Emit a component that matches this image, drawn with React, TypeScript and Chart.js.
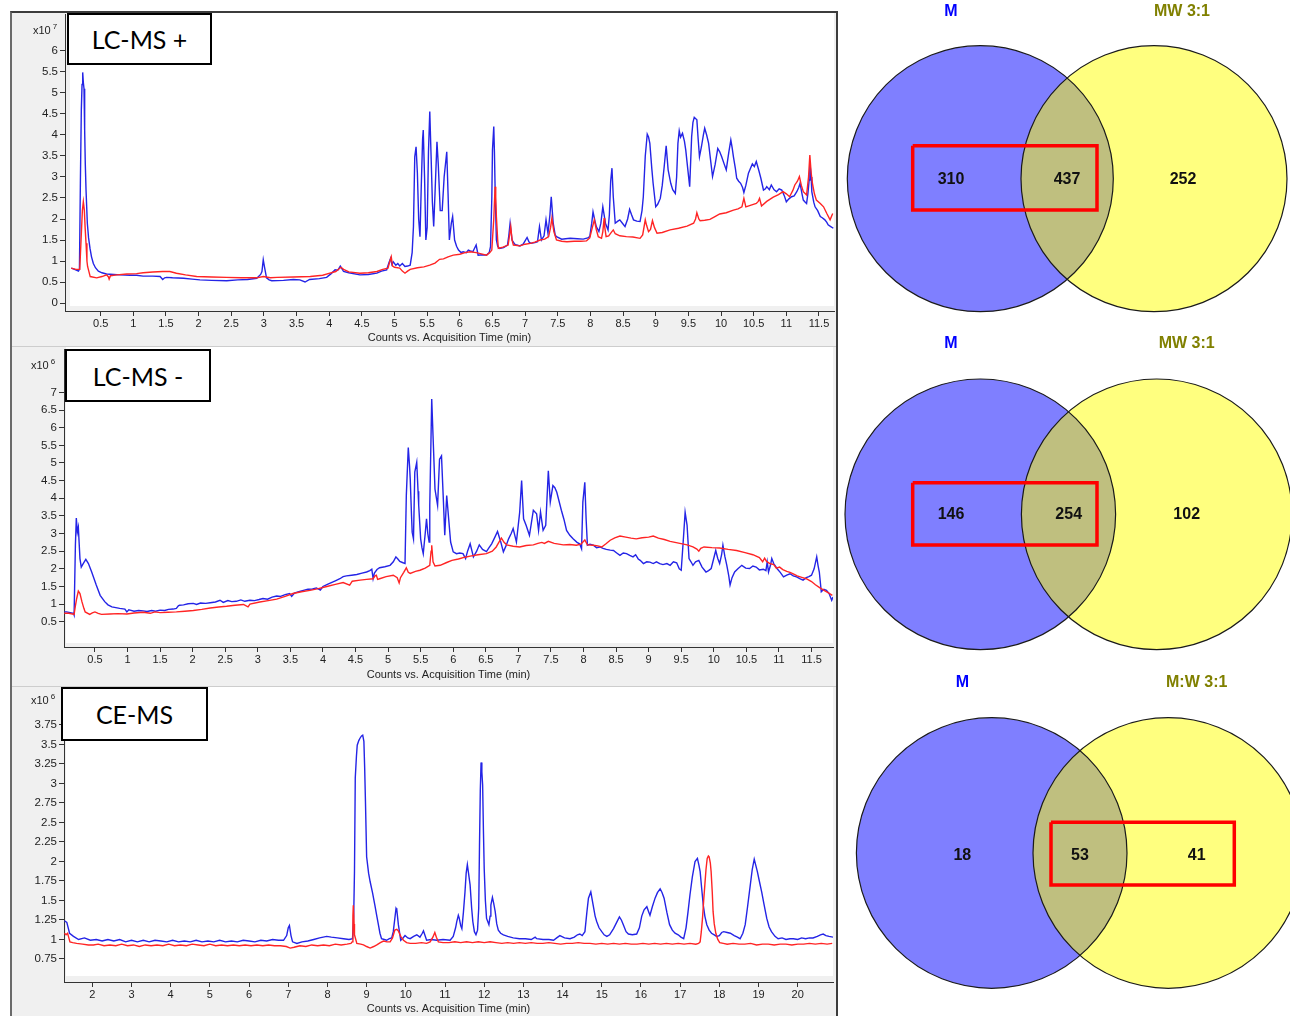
import React, { useEffect, useRef } from "react";
import { Chart, registerables } from "chart.js";

Chart.register(...registerables);

type Pt = [number, number];

// ---------------- Tick labels ----------------
const lcXTicks = [0.5, 1, 1.5, 2, 2.5, 3, 3.5, 4, 4.5, 5, 5.5, 6, 6.5, 7, 7.5, 8, 8.5, 9, 9.5, 10, 10.5, 11, 11.5];
const lcPosYTicks = [0, 0.5, 1, 1.5, 2, 2.5, 3, 3.5, 4, 4.5, 5, 5.5, 6];
const lcNegYTicks = [0.5, 1, 1.5, 2, 2.5, 3, 3.5, 4, 4.5, 5, 5.5, 6, 6.5, 7];
const ceXTicks = [2, 3, 4, 5, 6, 7, 8, 9, 10, 11, 12, 13, 14, 15, 16, 17, 18, 19, 20];
const ceYTicks = [0.75, 1, 1.25, 1.5, 1.75, 2, 2.25, 2.5, 2.75, 3, 3.25, 3.5, 3.75];

const xTitle = "Counts vs. Acquisition Time (min)";
const panelTitles = ["LC-MS +", "LC-MS -", "CE-MS"];
const panelExponents = ["7", "6", "6"];

// ---------------- LC-MS + (x10^7 counts vs min) ----------------
const lcPosBlue: Pt[] = [
  [0.05,0.83],[0.1,0.8],[0.16,0.76],[0.175,0.8],[0.19,2.93],[0.204,4.6],[0.215,5.2],[0.225,5.49],[0.235,5.25],[0.245,5.1],
  [0.255,4.12],[0.265,3.3],[0.276,2.69],[0.296,1.9],[0.315,1.55],[0.337,1.3],[0.36,1.1],[0.388,0.94],[0.42,0.84],[0.465,0.76],
  [0.52,0.72],[0.59,0.69],[0.7,0.68],[0.8,0.67],[0.95,0.66],[1.05,0.66],[1.15,0.64],[1.3,0.64],[1.41,0.63],[1.45,0.56],
  [1.48,0.6],[1.51,0.61],[1.6,0.6],[1.77,0.59],[1.9,0.57],[2.02,0.55],[2.2,0.54],[2.43,0.53],[2.6,0.55],[2.75,0.56],
  [2.89,0.59],[2.95,0.68],[2.97,0.75],[2.99,1.03],[3.01,0.85],[3.04,0.6],[3.08,0.55],[3.12,0.53],[3.3,0.54],[3.45,0.56],
  [3.55,0.55],[3.63,0.5],[3.7,0.56],[3.85,0.58],[3.96,0.61],[4.03,0.7],[4.09,0.79],[4.13,0.78],[4.17,0.88],[4.22,0.75],
  [4.3,0.72],[4.47,0.67],[4.6,0.68],[4.73,0.71],[4.8,0.76],[4.88,0.79],[4.92,0.98],[4.94,1.06],[4.96,0.92],[4.98,0.98],
  [5.02,0.9],[5.05,0.94],[5.08,0.88],[5.12,0.94],[5.16,0.87],[5.2,0.88],[5.24,0.9],[5.27,1.2],[5.29,1.82],[5.31,3.48],
  [5.33,3.72],[5.35,3.1],[5.37,2.0],[5.39,1.58],[5.41,2.8],[5.43,3.9],[5.44,4.12],[5.46,3.0],[5.48,1.5],[5.5,1.8],
  [5.52,3.6],[5.54,4.56],[5.56,3.5],[5.58,2.4],[5.6,1.82],[5.62,2.6],[5.65,3.84],[5.67,3.3],[5.7,2.2],[5.73,2.2],
  [5.76,3.0],[5.8,3.6],[5.82,2.6],[5.84,1.5],[5.87,1.9],[5.89,2.06],[5.92,1.5],[5.95,1.35],[5.98,1.26],[6.02,1.2],
  [6.05,1.22],[6.1,1.2],[6.13,1.26],[6.16,1.24],[6.2,1.22],[6.25,1.38],[6.28,1.14],[6.35,1.15],[6.41,1.14],[6.45,1.2],
  [6.47,1.34],[6.49,2.5],[6.5,3.64],[6.52,4.2],[6.53,3.6],[6.54,2.77],[6.56,1.5],[6.58,1.35],[6.61,1.3],[6.67,1.32],
  [6.73,1.38],[6.75,1.6],[6.77,1.9],[6.8,1.5],[6.84,1.4],[6.87,1.38],[6.92,1.36],[6.97,1.4],[7.03,1.56],[7.06,1.45],
  [7.09,1.42],[7.15,1.44],[7.19,1.46],[7.22,1.82],[7.25,1.5],[7.29,1.6],[7.32,1.98],[7.35,1.66],[7.38,2.1],[7.4,2.53],
  [7.43,1.9],[7.46,1.62],[7.48,1.58],[7.56,1.52],[7.62,1.53],[7.69,1.54],[7.8,1.53],[7.89,1.52],[7.96,1.55],[7.99,1.58],
  [8.02,1.9],[8.04,2.17],[8.07,1.95],[8.09,1.82],[8.13,1.7],[8.16,1.9],[8.19,2.29],[8.21,2.1],[8.23,1.9],[8.27,1.74],
  [8.29,2.1],[8.31,2.9],[8.33,3.21],[8.35,2.53],[8.38,1.9],[8.42,1.95],[8.45,1.98],[8.49,1.9],[8.53,1.82],[8.57,2.0],
  [8.6,2.23],[8.63,2.1],[8.66,1.98],[8.71,1.95],[8.76,1.94],[8.79,2.2],[8.81,2.53],[8.84,3.5],[8.87,4.02],[8.89,3.95],
  [8.91,3.8],[8.94,3.2],[8.96,2.85],[9.0,2.29],[9.03,2.35],[9.07,2.49],[9.1,2.8],[9.13,3.25],[9.16,3.74],[9.19,3.17],
  [9.23,2.85],[9.26,2.7],[9.3,2.61],[9.32,3.0],[9.34,3.8],[9.36,4.1],[9.38,3.95],[9.41,4.04],[9.44,3.85],[9.46,3.64],
  [9.49,3.2],[9.52,2.77],[9.55,3.96],[9.57,4.3],[9.59,4.42],[9.63,4.36],[9.65,3.9],[9.67,3.48],[9.7,3.72],[9.73,4.0],
  [9.75,4.16],[9.78,4.0],[9.81,3.8],[9.84,3.4],[9.87,3.01],[9.91,3.3],[9.95,3.68],[9.98,3.6],[10.01,3.48],[10.05,3.3],
  [10.08,3.17],[10.12,3.6],[10.15,3.88],[10.17,3.7],[10.19,3.48],[10.22,3.2],[10.24,2.97],[10.27,2.9],[10.3,2.85],[10.33,2.75],
  [10.35,2.63],[10.38,2.8],[10.42,3.09],[10.45,3.2],[10.48,3.31],[10.51,3.25],[10.54,3.37],[10.58,3.15],[10.61,2.97],[10.65,2.69],
  [10.68,2.72],[10.7,2.77],[10.74,2.7],[10.77,2.81],[10.81,2.7],[10.85,2.65],[10.89,2.72],[10.93,2.69],[10.97,2.55],[11.0,2.41],
  [11.04,2.48],[11.08,2.53],[11.12,2.55],[11.16,2.65],[11.19,2.75],[11.21,2.85],[11.24,2.6],[11.26,2.45],[11.29,2.4],[11.31,2.37],
  [11.33,2.6],[11.35,2.93],[11.36,3.37],[11.38,3.0],[11.39,2.65],[11.42,2.4],[11.44,2.29],[11.48,2.2],[11.52,2.06],[11.55,2.03],
  [11.59,1.98],[11.62,1.92],[11.64,1.86],[11.68,1.82],[11.72,1.78],
];
const lcPosRed: Pt[] = [
  [0.05,0.83],[0.12,0.8],[0.18,0.8],[0.2,1.5],[0.22,2.2],[0.235,2.41],[0.25,2.21],[0.262,1.8],[0.276,1.42],[0.29,1.0],
  [0.3,0.87],[0.34,0.63],[0.44,0.6],[0.52,0.63],[0.59,0.67],[0.62,0.62],[0.63,0.57],[0.65,0.65],[0.75,0.67],[0.9,0.69],
  [1.05,0.7],[1.15,0.72],[1.3,0.74],[1.45,0.75],[1.56,0.75],[1.66,0.71],[1.8,0.67],[1.97,0.63],[2.2,0.62],[2.43,0.61],
  [2.65,0.6],[2.89,0.6],[2.99,0.63],[3.1,0.6],[3.2,0.61],[3.45,0.62],[3.71,0.63],[3.9,0.66],[4.01,0.71],[4.1,0.75],
  [4.18,0.85],[4.22,0.8],[4.3,0.74],[4.47,0.71],[4.6,0.72],[4.73,0.75],[4.82,0.8],[4.9,0.83],[4.93,1.0],[4.95,1.1],
  [4.97,0.88],[5.0,0.85],[5.08,0.83],[5.12,0.76],[5.16,0.71],[5.2,0.76],[5.24,0.8],[5.35,0.84],[5.45,0.86],[5.54,0.9],
  [5.62,0.95],[5.69,1.04],[5.75,1.05],[5.82,1.1],[5.9,1.14],[6.0,1.16],[6.08,1.2],[6.16,1.22],[6.25,1.2],[6.33,1.17],
  [6.41,1.14],[6.46,1.2],[6.49,1.26],[6.52,2.0],[6.54,2.77],[6.55,2.5],[6.56,2.06],[6.58,1.5],[6.59,1.3],[6.66,1.33],
  [6.74,1.38],[6.76,1.6],[6.78,1.82],[6.8,1.5],[6.82,1.38],[6.92,1.36],[7.0,1.4],[7.08,1.42],[7.15,1.45],[7.23,1.5],
  [7.3,1.52],[7.36,1.58],[7.39,1.8],[7.41,2.02],[7.44,1.7],[7.48,1.5],[7.56,1.47],[7.64,1.46],[7.75,1.47],[7.85,1.47],
  [7.94,1.48],[7.99,1.55],[8.02,1.74],[8.06,1.98],[8.09,1.75],[8.12,1.58],[8.17,1.54],[8.19,1.7],[8.21,2.02],[8.22,1.8],
  [8.24,1.58],[8.28,1.6],[8.32,1.68],[8.35,1.74],[8.38,1.65],[8.45,1.6],[8.55,1.58],[8.65,1.57],[8.76,1.54],[8.8,1.62],
  [8.84,1.98],[8.86,1.85],[8.89,1.7],[8.92,1.75],[8.95,1.96],[8.98,1.8],[9.02,1.66],[9.1,1.68],[9.22,1.74],[9.35,1.78],
  [9.48,1.83],[9.58,1.9],[9.61,2.0],[9.63,2.15],[9.66,2.0],[9.68,1.96],[9.75,1.97],[9.83,1.99],[9.9,2.05],[9.98,2.12],
  [10.08,2.15],[10.19,2.21],[10.26,2.24],[10.32,2.29],[10.35,2.49],[10.38,2.29],[10.46,2.33],[10.54,2.37],[10.57,2.42],[10.59,2.49],
  [10.62,2.31],[10.7,2.42],[10.8,2.52],[10.88,2.58],[10.95,2.65],[11.0,2.6],[11.05,2.53],[11.1,2.68],[11.13,2.81],[11.17,2.9],
  [11.2,3.01],[11.23,2.8],[11.26,2.65],[11.31,2.57],[11.34,3.0],[11.36,3.52],[11.38,3.1],[11.4,2.85],[11.43,2.6],[11.46,2.45],
  [11.52,2.37],[11.57,2.29],[11.62,2.13],[11.67,1.98],[11.71,2.13],
];

// ---------------- LC-MS - (x10^6 counts vs min) ----------------
const lcNegBlue: Pt[] = [
  [0.03,0.78],[0.065,0.78],[0.12,0.76],[0.17,0.74],[0.18,0.69],[0.2,2.67],[0.214,3.44],[0.23,3.04],[0.245,3.18],[0.27,2.29],
  [0.29,2.05],[0.32,2.15],[0.36,2.27],[0.4,2.15],[0.45,1.91],[0.52,1.54],[0.58,1.25],[0.65,1.07],[0.7,0.98],[0.76,0.92],
  [0.82,0.9],[0.88,0.88],[0.96,0.86],[0.99,0.78],[1.02,0.84],[1.04,0.83],[1.1,0.8],[1.17,0.82],[1.24,0.81],[1.3,0.79],
  [1.37,0.82],[1.43,0.8],[1.5,0.83],[1.57,0.82],[1.63,0.85],[1.7,0.86],[1.75,0.88],[1.78,0.95],[1.8,0.97],[1.86,0.98],
  [1.93,1.01],[2.01,1.02],[2.06,0.99],[2.12,1.03],[2.2,1.02],[2.27,1.04],[2.35,1.06],[2.42,1.11],[2.47,1.05],[2.54,1.1],
  [2.6,1.07],[2.67,1.08],[2.74,1.12],[2.8,1.08],[2.88,1.11],[2.95,1.1],[3.02,1.13],[3.08,1.16],[3.15,1.14],[3.22,1.2],
  [3.29,1.23],[3.35,1.22],[3.42,1.27],[3.49,1.3],[3.52,1.22],[3.56,1.31],[3.63,1.35],[3.7,1.39],[3.77,1.42],[3.84,1.43],
  [3.9,1.46],[3.96,1.4],[4.0,1.5],[4.06,1.55],[4.12,1.6],[4.19,1.66],[4.26,1.72],[4.31,1.78],[4.36,1.8],[4.44,1.82],
  [4.52,1.84],[4.6,1.88],[4.67,1.91],[4.72,1.95],[4.75,1.99],[4.77,1.72],[4.79,1.88],[4.83,1.98],[4.87,2.03],[4.95,2.06],
  [5.03,2.1],[5.08,2.2],[5.12,2.34],[5.15,2.28],[5.18,2.21],[5.22,2.18],[5.26,2.15],[5.28,4.08],[5.31,5.44],[5.33,4.9],
  [5.34,4.55],[5.36,3.5],[5.37,3.04],[5.39,2.85],[5.41,4.74],[5.44,5.02],[5.46,4.2],[5.47,3.8],[5.5,2.85],[5.52,2.6],
  [5.54,2.43],[5.57,3.0],[5.59,3.42],[5.61,3.0],[5.63,2.76],[5.64,3.8],[5.67,6.81],[5.69,5.77],[5.72,4.26],[5.76,3.8],
  [5.79,5.11],[5.82,5.2],[5.85,3.89],[5.87,2.95],[5.9,4.08],[5.93,3.42],[5.96,2.76],[6.0,2.48],[6.05,2.43],[6.1,2.45],
  [6.15,2.43],[6.19,2.29],[6.22,2.5],[6.26,2.71],[6.31,2.34],[6.36,2.5],[6.4,2.68],[6.45,2.55],[6.51,2.49],[6.55,2.6],
  [6.59,2.71],[6.64,2.9],[6.68,3.06],[6.73,2.76],[6.77,2.48],[6.81,2.65],[6.85,2.85],[6.89,3.0],[6.92,3.14],[6.97,2.76],
  [7.02,3.6],[7.05,4.5],[7.08,3.42],[7.12,3.23],[7.17,2.95],[7.2,3.3],[7.23,3.66],[7.28,3.56],[7.31,3.09],[7.34,3.61],
  [7.38,3.09],[7.42,3.23],[7.46,4.78],[7.49,3.89],[7.53,4.36],[7.56,4.3],[7.59,4.17],[7.62,3.95],[7.66,3.66],[7.7,3.4],
  [7.74,3.09],[7.79,2.95],[7.84,2.85],[7.9,2.75],[7.94,2.71],[7.97,2.57],[7.99,3.89],[8.02,4.45],[8.04,3.42],[8.06,2.67],
  [8.1,2.7],[8.15,2.67],[8.2,2.6],[8.25,2.62],[8.3,2.58],[8.35,2.55],[8.41,2.53],[8.46,2.52],[8.51,2.45],[8.56,2.38],
  [8.61,2.45],[8.66,2.43],[8.71,2.38],[8.76,2.34],[8.8,2.4],[8.84,2.28],[8.87,2.24],[8.92,2.15],[8.97,2.2],[9.02,2.19],
  [9.07,2.15],[9.12,2.2],[9.17,2.15],[9.22,2.12],[9.28,2.15],[9.33,2.1],[9.38,2.2],[9.43,2.17],[9.47,2.0],[9.5,1.96],
  [9.53,2.76],[9.56,3.6],[9.59,3.23],[9.62,2.29],[9.65,2.2],[9.68,2.1],[9.72,2.2],[9.77,2.24],[9.82,2.05],[9.88,1.91],
  [9.92,1.95],[9.96,2.01],[10.0,2.3],[10.03,2.52],[10.06,2.3],[10.09,2.15],[10.12,2.4],[10.14,2.67],[10.17,2.35],[10.2,2.1],
  [10.23,1.8],[10.25,1.54],[10.28,1.75],[10.32,1.91],[10.37,2.0],[10.43,2.1],[10.49,2.02],[10.55,2.01],[10.6,2.08],[10.65,2.05],
  [10.7,1.97],[10.76,1.99],[10.8,1.95],[10.82,2.2],[10.84,1.91],[10.87,2.1],[10.89,2.29],[10.92,2.15],[10.97,2.01],[11.02,1.9],
  [11.07,1.77],[11.12,1.82],[11.17,1.86],[11.22,1.8],[11.27,1.77],[11.32,1.72],[11.37,1.68],[11.42,1.75],[11.46,1.78],[11.5,1.82],
  [11.54,2.0],[11.58,2.34],[11.6,2.1],[11.62,1.91],[11.65,1.35],[11.69,1.42],[11.73,1.39],[11.77,1.3],[11.81,1.11],[11.83,1.2],
];
const lcNegRed: Pt[] = [
  [0.03,0.74],[0.1,0.74],[0.18,0.71],[0.2,0.95],[0.22,1.16],[0.245,1.37],[0.27,1.3],[0.3,1.07],[0.33,0.88],[0.35,0.78],
  [0.42,0.71],[0.46,0.75],[0.5,0.78],[0.55,0.74],[0.6,0.71],[0.73,0.72],[0.85,0.73],[0.99,0.72],[1.1,0.75],[1.24,0.77],
  [1.35,0.74],[1.42,0.78],[1.5,0.76],[1.62,0.77],[1.75,0.78],[1.88,0.8],[2.01,0.82],[2.14,0.85],[2.27,0.89],[2.4,0.92],
  [2.52,0.94],[2.65,0.97],[2.78,0.99],[2.85,0.92],[2.88,1.0],[3.03,1.06],[3.16,1.1],[3.29,1.14],[3.42,1.22],[3.54,1.3],
  [3.67,1.35],[3.8,1.39],[3.93,1.44],[4.06,1.5],[4.19,1.56],[4.31,1.61],[4.41,1.54],[4.45,1.65],[4.57,1.68],[4.67,1.7],
  [4.77,1.72],[4.8,1.8],[4.82,1.82],[4.84,1.7],[4.87,1.72],[4.97,1.78],[5.08,1.82],[5.14,1.75],[5.17,1.6],[5.19,1.75],
  [5.24,1.9],[5.28,2.03],[5.31,1.9],[5.34,1.87],[5.42,1.93],[5.49,1.96],[5.57,2.02],[5.64,2.1],[5.66,2.5],[5.67,2.67],
  [5.69,2.2],[5.72,2.08],[5.8,2.1],[5.9,2.18],[5.98,2.24],[6.08,2.28],[6.18,2.33],[6.26,2.36],[6.38,2.4],[6.51,2.43],
  [6.6,2.5],[6.66,2.62],[6.7,2.75],[6.74,2.87],[6.78,2.75],[6.82,2.68],[6.92,2.64],[7.02,2.62],[7.12,2.66],[7.23,2.68],
  [7.3,2.72],[7.36,2.75],[7.4,2.72],[7.46,2.78],[7.55,2.72],[7.62,2.7],[7.69,2.68],[7.79,2.69],[7.89,2.67],[7.96,2.7],
  [8.02,2.82],[8.06,2.68],[8.15,2.67],[8.22,2.65],[8.28,2.62],[8.35,2.72],[8.41,2.81],[8.48,2.88],[8.56,2.93],[8.65,2.9],
  [8.73,2.87],[8.81,2.85],[8.9,2.88],[9.0,2.9],[9.07,2.93],[9.15,2.87],[9.24,2.83],[9.33,2.78],[9.46,2.73],[9.59,2.68],
  [9.68,2.62],[9.74,2.56],[9.77,2.5],[9.8,2.58],[9.85,2.62],[9.97,2.6],[10.09,2.59],[10.22,2.55],[10.35,2.52],[10.48,2.46],
  [10.6,2.4],[10.7,2.32],[10.75,2.2],[10.78,2.3],[10.81,2.21],[10.86,2.15],[10.92,2.12],[10.96,2.02],[11.01,2.05],[11.06,1.98],
  [11.12,1.93],[11.17,1.9],[11.22,1.86],[11.28,1.8],[11.35,1.76],[11.42,1.72],[11.5,1.64],[11.56,1.55],[11.63,1.46],[11.7,1.38],
  [11.76,1.32],[11.82,1.25],
];

// ---------------- CE-MS (x10^6 counts vs min) ----------------
const ceBlue: Pt[] = [
  [1.29,1.24],[1.35,1.22],[1.42,1.08],[1.52,1.04],[1.65,1.0],[1.8,1.02],[1.95,0.99],[2.1,1.0],[2.25,0.98],[2.4,1.0],
  [2.55,0.98],[2.7,1.0],[2.85,0.97],[3.0,0.99],[3.15,0.97],[3.3,0.99],[3.45,0.97],[3.6,0.99],[3.75,0.98],[3.9,0.97],
  [4.05,0.99],[4.2,0.97],[4.35,0.98],[4.5,0.97],[4.65,0.99],[4.8,0.97],[4.95,0.98],[5.1,0.97],[5.25,0.99],[5.4,0.97],
  [5.55,0.98],[5.7,0.97],[5.85,0.99],[6.0,0.98],[6.15,0.97],[6.3,0.99],[6.45,0.98],[6.6,1.0],[6.75,0.99],[6.88,0.99],
  [6.96,1.05],[7.0,1.15],[7.03,1.18],[7.07,1.05],[7.11,0.97],[7.22,0.95],[7.35,0.97],[7.5,0.98],[7.65,1.0],[7.8,1.02],
  [7.98,1.04],[8.1,1.03],[8.25,1.02],[8.41,1.01],[8.55,1.0],[8.64,1.01],[8.67,1.3],[8.69,1.87],[8.71,3.07],[8.74,3.35],
  [8.76,3.49],[8.8,3.55],[8.83,3.58],[8.87,3.61],[8.9,3.62],[8.93,3.54],[8.95,3.2],[8.97,2.77],[9.0,2.06],[9.05,1.85],
  [9.09,1.74],[9.15,1.6],[9.21,1.44],[9.26,1.3],[9.3,1.19],[9.34,1.08],[9.38,1.01],[9.45,1.0],[9.51,0.99],[9.58,1.01],
  [9.64,1.02],[9.68,1.1],[9.72,1.27],[9.75,1.4],[9.77,1.38],[9.81,1.19],[9.87,0.99],[9.93,1.02],[9.98,1.05],[10.05,1.02],
  [10.11,1.01],[10.2,1.04],[10.28,1.06],[10.36,1.03],[10.42,1.08],[10.45,1.11],[10.49,1.05],[10.53,0.99],[10.65,1.0],[10.79,0.99],
  [10.95,1.0],[11.13,0.99],[11.21,1.04],[11.27,1.15],[11.3,1.23],[11.34,1.31],[11.36,1.28],[11.4,1.18],[11.43,1.14],[11.47,1.35],
  [11.51,1.61],[11.54,1.85],[11.57,1.96],[11.6,1.85],[11.64,1.7],[11.68,1.4],[11.71,1.23],[11.75,1.1],[11.79,1.06],[11.83,1.12],
  [11.86,1.4],[11.88,2.2],[11.9,2.9],[11.92,3.27],[11.94,3.15],[11.96,2.98],[11.98,2.4],[12.0,1.91],[12.03,1.5],[12.06,1.27],
  [12.12,1.19],[12.15,1.3],[12.17,1.44],[12.21,1.54],[12.24,1.47],[12.28,1.36],[12.32,1.2],[12.36,1.12],[12.42,1.08],[12.49,1.06],
  [12.6,1.04],[12.74,1.02],[12.9,1.01],[13.05,1.01],[13.2,1.0],[13.3,1.03],[13.34,1.01],[13.5,1.0],[13.65,1.0],[13.77,0.99],
  [13.85,1.02],[13.93,1.05],[14.05,1.02],[14.19,1.01],[14.3,1.03],[14.38,1.06],[14.44,1.07],[14.5,1.05],[14.57,1.1],[14.62,1.35],
  [14.66,1.53],[14.72,1.61],[14.78,1.44],[14.83,1.3],[14.87,1.23],[14.93,1.15],[15.0,1.1],[15.06,1.06],[15.13,1.04],[15.2,1.06],
  [15.3,1.14],[15.38,1.22],[15.45,1.29],[15.5,1.25],[15.55,1.19],[15.62,1.1],[15.68,1.07],[15.78,1.06],[15.89,1.07],[15.96,1.15],
  [16.02,1.3],[16.08,1.38],[16.15,1.42],[16.2,1.35],[16.23,1.31],[16.29,1.42],[16.36,1.53],[16.42,1.6],[16.49,1.65],[16.54,1.6],
  [16.59,1.53],[16.66,1.35],[16.73,1.19],[16.8,1.12],[16.87,1.08],[16.95,1.06],[17.02,1.03],[17.09,1.01],[17.15,1.15],[17.2,1.35],
  [17.25,1.57],[17.31,1.8],[17.38,2.0],[17.44,2.04],[17.48,1.95],[17.51,1.87],[17.55,1.65],[17.59,1.44],[17.63,1.3],[17.68,1.19],
  [17.74,1.12],[17.8,1.08],[17.87,1.06],[17.93,1.04],[18.0,1.05],[18.06,1.09],[18.11,1.1],[18.2,1.09],[18.28,1.08],[18.38,1.05],
  [18.46,1.03],[18.53,1.01],[18.6,1.08],[18.66,1.19],[18.72,1.42],[18.79,1.7],[18.84,1.9],[18.89,2.03],[18.93,1.95],[18.97,1.87],
  [19.02,1.75],[19.08,1.61],[19.14,1.45],[19.21,1.27],[19.27,1.16],[19.33,1.1],[19.42,1.04],[19.5,1.01],[19.6,1.02],[19.7,1.0],
  [19.8,1.01],[19.89,1.01],[20.0,1.0],[20.1,1.02],[20.2,1.01],[20.3,1.02],[20.39,1.02],[20.5,1.04],[20.58,1.06],[20.65,1.07],
  [20.72,1.05],[20.8,1.04],[20.9,1.03],
];
const ceRed: Pt[] = [
  [1.29,1.08],[1.33,1.06],[1.37,1.08],[1.43,0.97],[1.5,0.96],[1.6,0.95],[1.75,0.94],[1.9,0.93],[2.03,0.93],[2.15,0.94],
  [2.3,0.92],[2.45,0.93],[2.6,0.92],[2.75,0.94],[2.9,0.92],[3.05,0.93],[3.2,0.91],[3.35,0.93],[3.5,0.92],[3.65,0.93],
  [3.8,0.92],[3.95,0.94],[4.1,0.92],[4.25,0.93],[4.4,0.92],[4.55,0.94],[4.7,0.93],[4.85,0.92],[5.0,0.94],[5.15,0.92],
  [5.3,0.93],[5.45,0.92],[5.6,0.93],[5.75,0.92],[5.9,0.93],[6.05,0.92],[6.2,0.93],[6.35,0.92],[6.5,0.93],[6.65,0.92],
  [6.8,0.92],[6.95,0.91],[7.05,0.89],[7.15,0.9],[7.3,0.92],[7.45,0.91],[7.6,0.93],[7.75,0.92],[7.9,0.93],[8.05,0.92],
  [8.2,0.94],[8.35,0.93],[8.5,0.94],[8.6,0.95],[8.63,0.97],[8.65,1.3],[8.66,1.44],[8.68,1.2],[8.69,1.06],[8.75,0.95],
  [8.85,0.94],[8.92,0.93],[9.0,0.91],[9.09,0.89],[9.18,0.91],[9.26,0.93],[9.35,0.96],[9.43,0.98],[9.52,0.97],[9.6,0.97],
  [9.66,1.02],[9.72,1.12],[9.77,1.13],[9.81,1.11],[9.87,1.04],[9.94,0.99],[10.02,0.96],[10.11,0.95],[10.25,0.95],[10.4,0.96],
  [10.53,0.95],[10.62,0.97],[10.69,1.03],[10.74,1.09],[10.78,1.03],[10.83,0.97],[10.95,0.96],[11.1,0.96],[11.25,0.97],[11.4,0.96],
  [11.55,0.97],[11.7,0.96],[11.85,0.97],[12.0,0.96],[12.15,0.97],[12.3,0.96],[12.45,0.95],[12.6,0.96],[12.75,0.95],[12.9,0.96],
  [13.05,0.95],[13.2,0.96],[13.35,0.95],[13.5,0.95],[13.65,0.96],[13.8,0.95],[13.95,0.94],[14.1,0.95],[14.25,0.95],[14.4,0.96],
  [14.55,0.95],[14.7,0.95],[14.85,0.94],[15.0,0.95],[15.15,0.94],[15.3,0.95],[15.45,0.94],[15.6,0.95],[15.75,0.94],[15.9,0.94],
  [16.05,0.95],[16.2,0.94],[16.35,0.95],[16.5,0.94],[16.65,0.95],[16.8,0.94],[16.95,0.95],[17.1,0.94],[17.25,0.95],[17.4,0.94],
  [17.47,0.95],[17.51,0.97],[17.54,1.1],[17.57,1.27],[17.6,1.5],[17.63,1.7],[17.66,1.9],[17.69,2.04],[17.72,2.07],[17.74,2.06],
  [17.77,1.98],[17.79,1.87],[17.82,1.6],[17.84,1.36],[17.87,1.2],[17.91,1.08],[17.96,1.0],[18.01,0.96],[18.1,0.95],[18.2,0.94],
  [18.35,0.95],[18.5,0.94],[18.65,0.94],[18.8,0.95],[18.95,0.93],[19.1,0.94],[19.25,0.94],[19.4,0.93],[19.55,0.94],[19.7,0.94],
  [19.85,0.93],[20.0,0.94],[20.15,0.94],[20.3,0.95],[20.45,0.94],[20.6,0.95],[20.75,0.94],[20.88,0.95],
];

// ---------------- Venn data ----------------
const vennSets1 = ["M", "MW 3:1"];
const vennCounts1 = [310, 437, 252];
const vennSets2 = ["M", "MW 3:1"];
const vennCounts2 = [146, 254, 102];
const vennSets3 = ["M", "M:W 3:1"];
const vennCounts3 = [18, 53, 41];

const FONT = "'Liberation Sans', Arial, Helvetica, sans-serif";
const BLUE_LINE = "#2424e6";
const RED_LINE = "#ff2424";

interface ChromProps {
  left: number; top: number; width: number; height: number;
  yWidth: number; xHeight: number; padTop: number; padRight: number;
  xMin: number; xMax: number; yMin: number; yMax: number;
  xTicks: number[]; yTicks: number[];
  blue: Pt[]; red: Pt[];
  titlePad: number; whiteLeft: number; whiteBottom: number;
}

function Chromatogram(p: ChromProps) {
  const ref = useRef<HTMLCanvasElement>(null);
  useEffect(() => {
    const canvas = ref.current;
    if (!canvas) return;
    const bg = {
      id: "panelBg",
      beforeDraw(chart: any) {
        const { ctx, chartArea: a, width, height } = chart;
        ctx.save();
        ctx.fillStyle = "#f0f0f0";
        ctx.fillRect(0, 0, width, height);
        ctx.fillStyle = "#ffffff";
        ctx.fillRect(a.left + p.whiteLeft, 0, a.right - a.left - p.whiteLeft, a.bottom - p.whiteBottom);
        ctx.restore();
      },
    };
    const noPadY = (s: any) => { s.width = p.yWidth; s.paddingTop = 0; s.paddingBottom = 0; };
    const noPadX = (s: any) => { s.height = p.xHeight; s.paddingLeft = 0; s.paddingRight = 0; };
    const chart = new Chart(canvas, {
      type: "line",
      data: {
        datasets: [
          { data: p.red.map(([x, y]) => ({ x, y })), borderColor: RED_LINE, borderWidth: 1.4, pointRadius: 0, tension: 0 },
          { data: p.blue.map(([x, y]) => ({ x, y })), borderColor: BLUE_LINE, borderWidth: 1.4, pointRadius: 0, tension: 0 },
        ],
      },
      options: {
        animation: false,
        responsive: false,
        events: [],
        layout: { padding: { top: p.padTop, right: p.padRight, left: 0, bottom: 0 } },
        plugins: { legend: { display: false }, tooltip: { enabled: false } },
        scales: {
          x: {
            type: "linear",
            min: p.xMin,
            max: p.xMax,
            afterBuildTicks: (s: any) => { s.ticks = p.xTicks.map((v) => ({ value: v })); },
            afterFit: noPadX,
            grid: { drawOnChartArea: false, drawTicks: true, tickLength: 5, color: "#333" },
            border: { display: true, color: "#333", width: 1 },
            ticks: {
              autoSkip: false, maxRotation: 0, minRotation: 0, padding: 1, color: "#222",
              font: { family: FONT, size: 11 },
              callback: (v: any) => String(v),
            },
            title: {
              display: true, text: xTitle, color: "#222",
              font: { family: FONT, size: 11 },
              padding: { top: 0, bottom: p.titlePad },
            },
          },
          y: {
            type: "linear",
            min: p.yMin,
            max: p.yMax,
            afterBuildTicks: (s: any) => { s.ticks = p.yTicks.map((v) => ({ value: v })); },
            afterFit: noPadY,
            grid: { drawOnChartArea: false, drawTicks: true, tickLength: 5, color: "#333" },
            border: { display: true, color: "#333", width: 1 },
            ticks: {
              autoSkip: false, padding: 2, color: "#222",
              font: { family: FONT, size: 11.5 },
              callback: (v: any) => String(v),
            },
          },
        },
      },
      plugins: [bg],
    } as any);
    return () => chart.destroy();
  }, []);
  return (
    <canvas
      ref={ref}
      width={p.width}
      height={p.height}
      style={{ position: "absolute", left: p.left, top: p.top, width: p.width, height: p.height }}
    />
  );
}

interface VennLayout {
  top: number; height: number;
  cx: number[]; cy: number; r: number;
  setY: number; setX: number[];
  countY: number; countX: number[];
  rect: number[]; // x0, y0, x1, y1
}

const VENN_W = 452;

function Venn({ layout, sets, counts }: { layout: VennLayout; sets: string[]; counts: number[] }) {
  const ref = useRef<HTMLCanvasElement>(null);
  useEffect(() => {
    const canvas = ref.current;
    if (!canvas) return;
    const L = layout;
    const circles = L.cx.map((x) => ({ x, y: L.cy }));
    const radiusPx = (ctx: any) => {
      const s = ctx.chart.scales.x;
      const v = Math.abs(s.getPixelForValue(L.r) - s.getPixelForValue(0));
      return isFinite(v) ? v : 0;
    };
    const [x0, y0, x1, y1] = L.rect;
    const labels = {
      id: "vennText",
      afterDatasetsDraw(chart: any) {
        const { ctx } = chart;
        const sx = chart.scales.x;
        const sy = chart.scales.y;
        ctx.save();
        ctx.textAlign = "center";
        ctx.textBaseline = "middle";
        ctx.font = `bold 16px ${FONT}`;
        ctx.fillStyle = "#111";
        counts.forEach((c, i) => {
          ctx.fillText(String(c), sx.getPixelForValue(L.countX[i]), sy.getPixelForValue(L.countY));
        });
        const setColors = ["#0000ff", "#808000"];
        sets.forEach((s, i) => {
          ctx.fillStyle = setColors[i];
          ctx.fillText(s, sx.getPixelForValue(L.setX[i]), sy.getPixelForValue(L.setY));
        });
        ctx.restore();
      },
    };
    const chart = new Chart(canvas, {
      type: "scatter",
      data: {
        datasets: [
          {
            type: "line",
            data: [{ x: x0, y: y0 }, { x: x1, y: y0 }, { x: x1, y: y1 }, { x: x0, y: y1 }, { x: x0, y: y0 }],
            borderColor: "#ff0000",
            borderWidth: 3.5,
            borderJoinStyle: "miter",
            pointRadius: 0,
            fill: false,
            tension: 0,
          },
          {
            data: circles,
            showLine: false,
            pointStyle: "circle",
            pointBackgroundColor: "rgba(0,0,0,0)",
            pointBorderColor: "#1a1a1a",
            pointBorderWidth: 1.2,
            pointRadius: radiusPx,
          },
          {
            data: circles,
            showLine: false,
            pointStyle: "circle",
            pointBackgroundColor: ["rgba(0,0,255,0.5)", "rgba(255,255,0,0.5)"],
            pointBorderWidth: 0,
            pointBorderColor: "rgba(0,0,0,0)",
            pointRadius: radiusPx,
          },
        ],
      },
      options: {
        animation: false,
        responsive: false,
        events: [],
        layout: { padding: 0 },
        plugins: { legend: { display: false }, tooltip: { enabled: false } },
        scales: {
          x: { type: "linear", display: false, min: 0, max: VENN_W },
          y: { type: "linear", display: false, min: 0, max: L.height, reverse: true },
        },
      },
      plugins: [labels],
    } as any);
    return () => chart.destroy();
  }, []);
  return (
    <canvas
      ref={ref}
      width={VENN_W}
      height={layout.height}
      style={{ position: "absolute", left: 838, top: layout.top, width: VENN_W, height: layout.height }}
    />
  );
}

const venn1: VennLayout = {
  top: 0, height: 335, cx: [142.3, 316], cy: 178.7, r: 133,
  setY: 11.5, setX: [113, 344], countY: 180, countX: [113, 229, 345],
  rect: [74.7, 145.7, 259, 210],
};
const venn2: VennLayout = {
  top: 335, height: 335, cx: [142.3, 318.7], cy: 179.3, r: 135.3,
  setY: 8.2, setX: [113, 348.7], countY: 180, countX: [113, 230.7, 348.7],
  rect: [74.7, 147.7, 259, 210],
};
const venn3: VennLayout = {
  top: 670, height: 346, cx: [153.7, 330.3], cy: 183, r: 135.3,
  setY: 12.5, setX: [124.3, 358.7], countY: 185.3, countX: [124.3, 242, 358.7],
  rect: [213, 152.3, 396.3, 215],
};

function LabelBox({ left, top, w, h, text }: { left: number; top: number; w: number; h: number; text: string }) {
  return (
    <div
      style={{
        position: "absolute", left, top, width: w, height: h, boxSizing: "border-box",
        border: "2px solid #000", background: "#fff", display: "flex", alignItems: "center",
        justifyContent: "center", fontFamily: "Lato, 'Open Sans', sans-serif", fontSize: 25, color: "#000",
        whiteSpace: "pre",
      }}
    >
      {text}
    </div>
  );
}

function Exponent({ left, top, exp }: { left: number; top: number; exp: string }) {
  return (
    <div style={{ position: "absolute", left, top, fontFamily: FONT, fontSize: 11, color: "#222", lineHeight: "12px", whiteSpace: "nowrap" }}>
      x10<span style={{ fontSize: 8, position: "relative", top: -5, marginLeft: 2 }}>{exp}</span>
    </div>
  );
}

export default function App() {
  return (
    <div style={{ position: "absolute", left: 0, top: 0, width: 1290, height: 1016, background: "#fff", overflow: "hidden" }}>
      <div
        style={{
          position: "absolute", left: 10, top: 11, width: 828, height: 1010, boxSizing: "border-box",
          borderTop: "2px solid #3c3c3c", borderLeft: "2px solid #6a6a6a", borderRight: "2px solid #3c3c3c",
          background: "#f0f0f0",
        }}
      />
      <Chromatogram
        left={12} top={13} width={824} height={333}
        yWidth={53} xHeight={35} padTop={1} padRight={2}
        xMin={-0.046} xMax={11.73} yMin={-0.19} yMax={6.88}
        xTicks={lcXTicks} yTicks={lcPosYTicks} blue={lcPosBlue} red={lcPosRed}
        titlePad={1} whiteLeft={5} whiteBottom={5}
      />
      <div style={{ position: "absolute", left: 12, top: 346, width: 824, height: 1, background: "#cdcdcd" }} />
      <Chromatogram
        left={12} top={347} width={824} height={339}
        yWidth={52} xHeight={39} padTop={2} padRight={3}
        xMin={0.025} xMax={11.83} yMin={-0.215} yMax={8.23}
        xTicks={lcXTicks} yTicks={lcNegYTicks} blue={lcNegBlue} red={lcNegRed}
        titlePad={4} whiteLeft={2} whiteBottom={4}
      />
      <div style={{ position: "absolute", left: 12, top: 686, width: 824, height: 1, background: "#cdcdcd" }} />
      <Chromatogram
        left={12} top={687} width={824} height={329}
        yWidth={52} xHeight={34} padTop={1} padRight={3}
        xMin={1.278} xMax={20.9} yMin={0.455} yMax={4.224}
        xTicks={ceXTicks} yTicks={ceYTicks} blue={ceBlue} red={ceRed}
        titlePad={0} whiteLeft={2} whiteBottom={6}
      />
      <Exponent left={33} top={24} exp={panelExponents[0]} />
      <Exponent left={31} top={359} exp={panelExponents[1]} />
      <Exponent left={31} top={694} exp={panelExponents[2]} />
      <LabelBox left={67} top={13} w={145} h={52} text={panelTitles[0]} />
      <LabelBox left={65} top={349} w={146} h={53} text={panelTitles[1]} />
      <LabelBox left={61} top={687} w={147} h={54} text={panelTitles[2]} />
      <Venn layout={venn1} sets={vennSets1} counts={vennCounts1} />
      <Venn layout={venn2} sets={vennSets2} counts={vennCounts2} />
      <Venn layout={venn3} sets={vennSets3} counts={vennCounts3} />
    </div>
  );
}
